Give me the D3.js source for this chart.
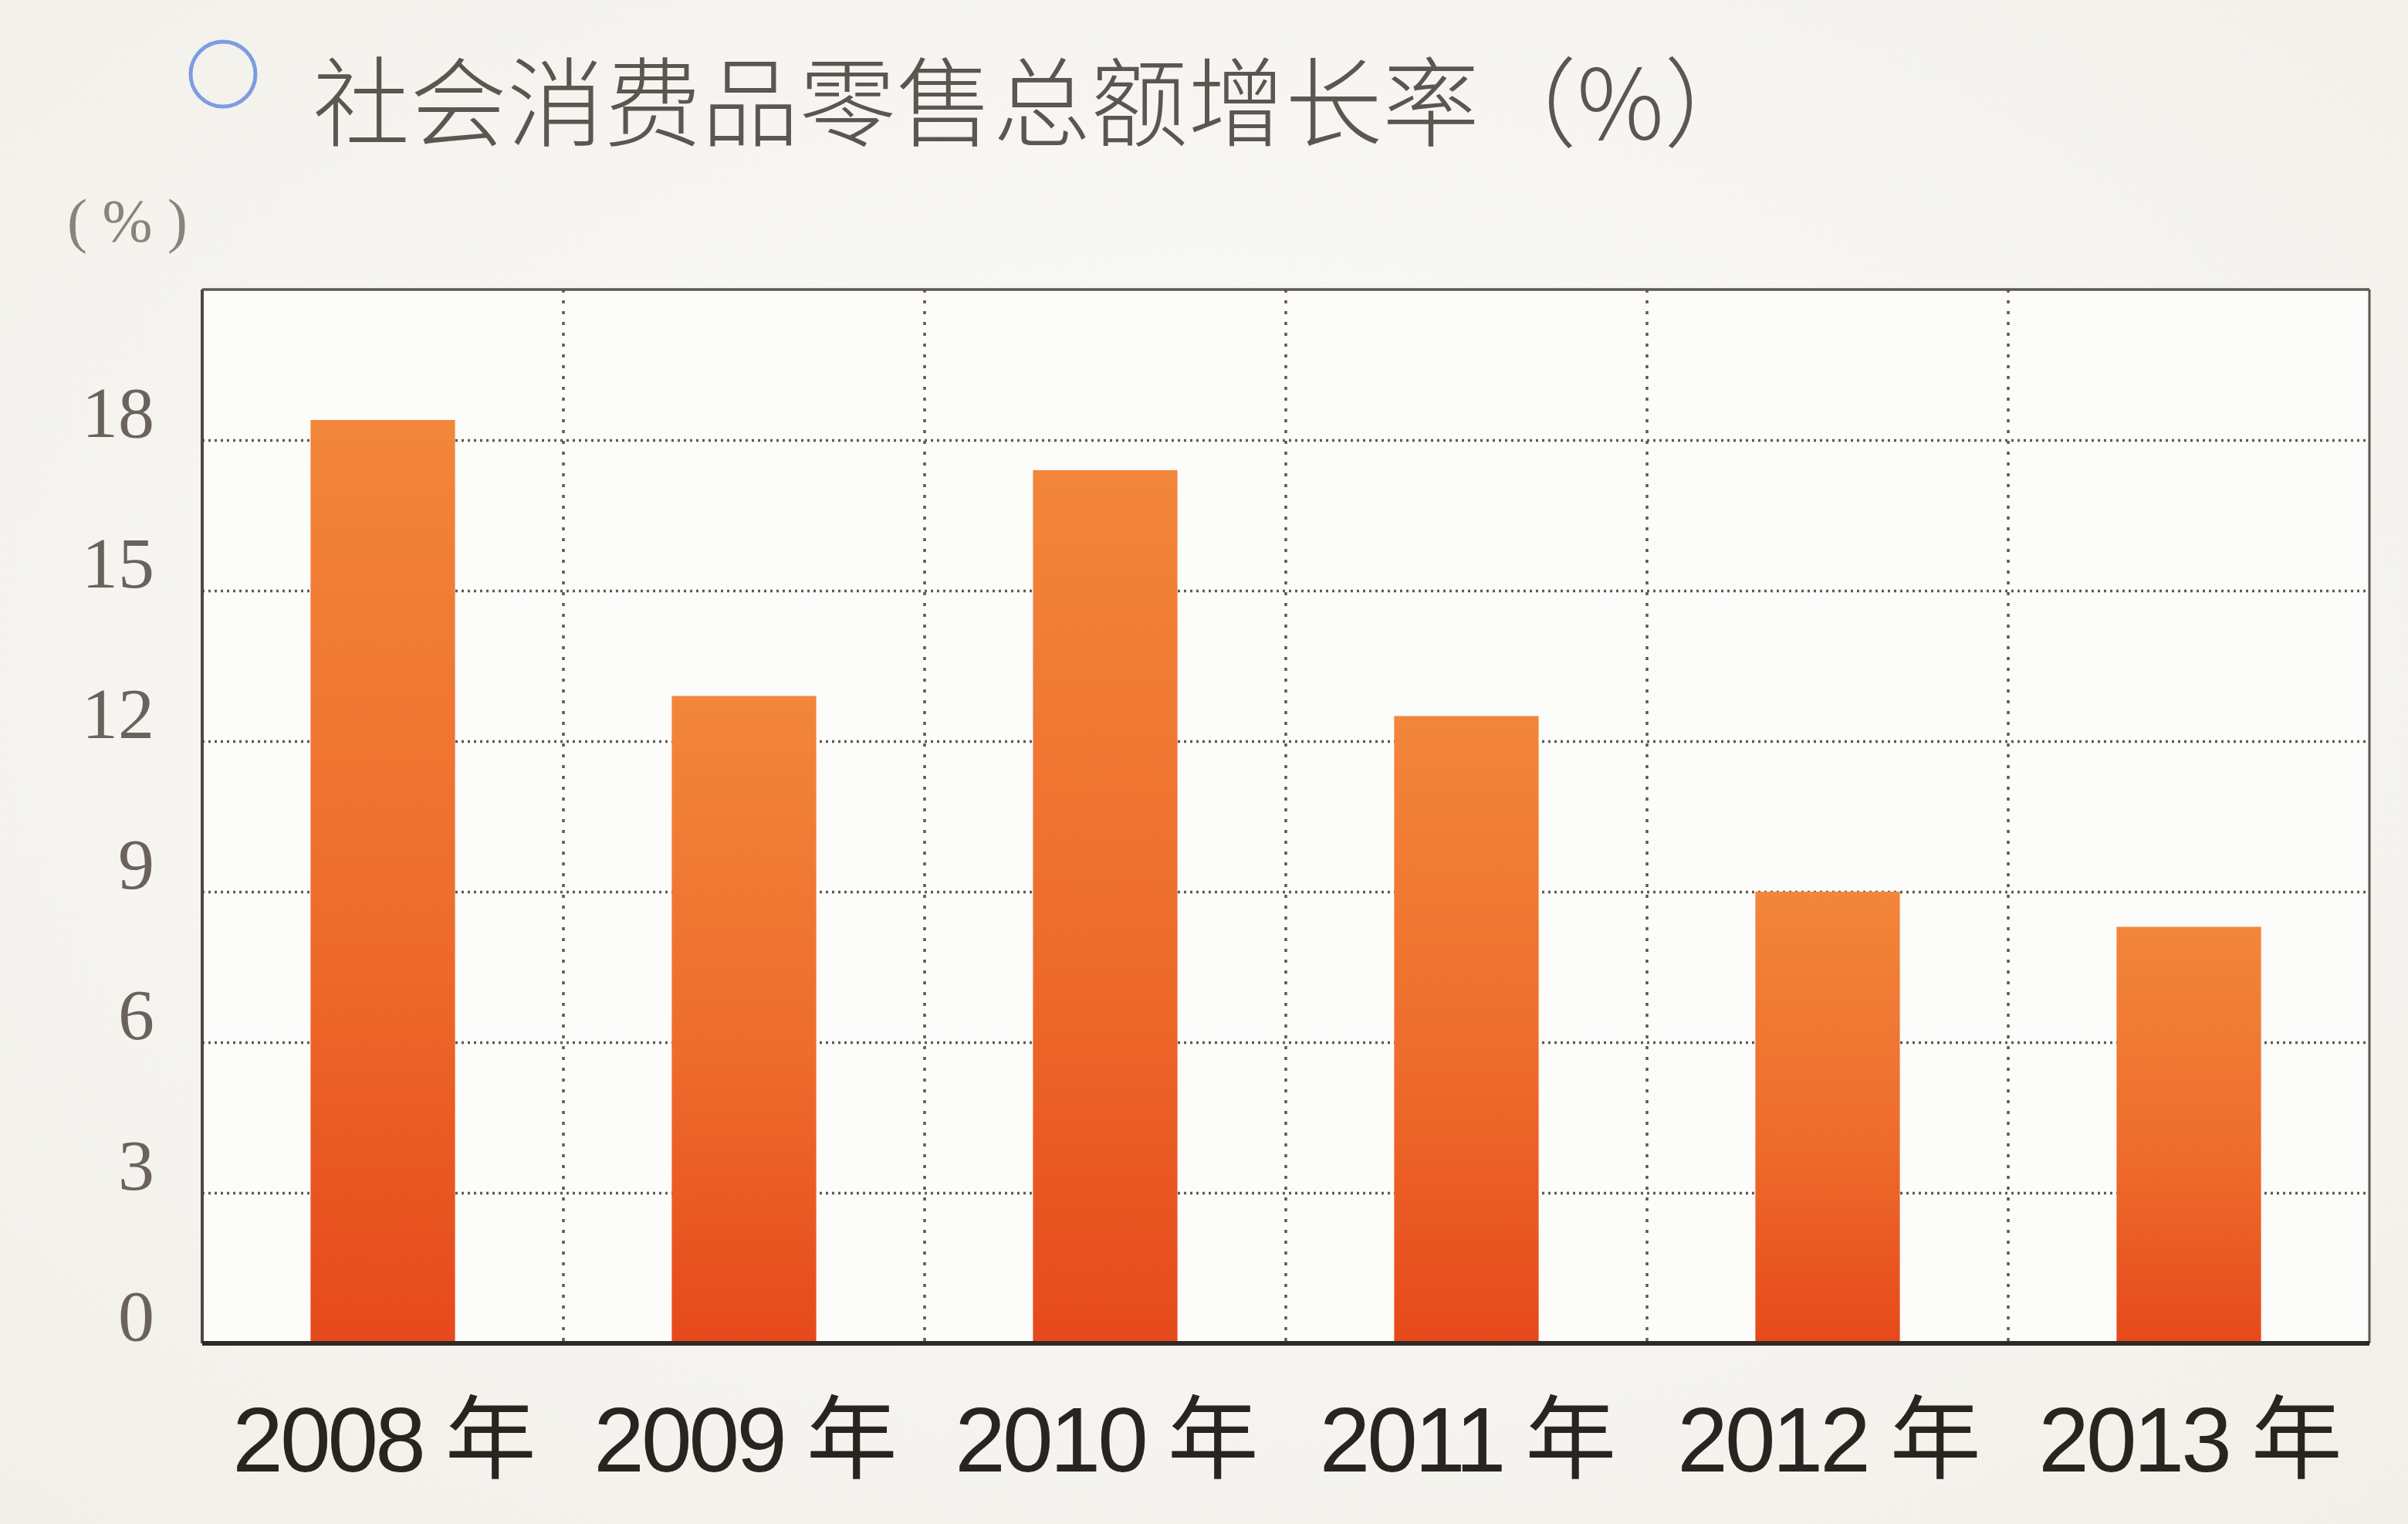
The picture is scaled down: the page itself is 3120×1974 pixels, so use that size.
<!DOCTYPE html>
<html>
<head>
<meta charset="utf-8">
<script src="https://cdn.jsdelivr.net/npm/d3@7"></script>
<style>
  html, body { margin: 0; padding: 0; background: #f6f5f1; }
  svg { display: block; }
</style>
</head>
<body>
<script>
// ---- data ----
const categories = ["2008", "2009", "2010", "2011", "2012", "2013"];
const tickLabels = ["2008 年", "2009 年", "2010 年", "2011 年", "2012 年", "2013 年"];
const values = [18.4, 12.9, 17.4, 12.5, 9.0, 8.3];
const yTicks = [0, 3, 6, 9, 12, 15, 18];
const titleText = "社会消费品零售总额增长率（%）";
const unitText = "( % )";

(function () {
// ---- layout ----
const W = 3120, H = 1974;
const pLeft = 262, pRight = 3070, pTop = 375, pBottom = 1740;

const svg = d3.select("body").append("svg")
  .attr("width", W).attr("height", H)
  .attr("viewBox", `0 0 ${W} ${H}`);

const defs = svg.append("defs");
const grad = defs.append("linearGradient")
  .attr("id", "barGrad").attr("x1", 0).attr("y1", 0).attr("x2", 0).attr("y2", 1);
grad.append("stop").attr("offset", "0%").attr("stop-color", "#f2863a");
grad.append("stop").attr("offset", "55%").attr("stop-color", "#ee6c2c");
grad.append("stop").attr("offset", "100%").attr("stop-color", "#e6491b");

const bg = defs.append("radialGradient").attr("id", "bgGrad")
  .attr("cx", "50%").attr("cy", "45%").attr("r", "75%");
bg.append("stop").attr("offset", "0%").attr("stop-color", "#fcfcfa");
bg.append("stop").attr("offset", "100%").attr("stop-color", "#f1efe9");

svg.append("rect").attr("width", W).attr("height", H).attr("fill", "url(#bgGrad)");

// scales
const x = d3.scaleBand().domain(categories).range([pLeft, pRight])
  .paddingInner(0.6).paddingOuter(0.3);
const y = d3.scaleLinear().domain([0, 21]).range([pBottom, pTop]);

// plot background
svg.append("rect")
  .attr("x", pLeft).attr("y", pTop)
  .attr("width", pRight - pLeft).attr("height", pBottom - pTop)
  .attr("fill", "#fcfcfb");

// horizontal gridlines via axis
const gridY = svg.append("g").attr("transform", `translate(${pLeft},0)`)
  .call(d3.axisLeft(y).tickValues(yTicks.filter(v => v > 0))
    .tickSize(-(pRight - pLeft)).tickFormat(""));
gridY.select(".domain").remove();
gridY.selectAll("line")
  .attr("stroke", "#635a54").attr("stroke-width", 3.5)
  .attr("stroke-dasharray", "3,5");

// vertical gridlines at category boundaries
const step = x.step();
const boundaries = categories.slice(1);
svg.append("g").selectAll("line")
  .data(boundaries).join("line")
  .attr("x1", d => x(d) - step * x.paddingInner() / 2)
  .attr("x2", d => x(d) - step * x.paddingInner() / 2)
  .attr("y1", pTop).attr("y2", pBottom)
  .attr("stroke", "#5f5650").attr("stroke-width", 3.5)
  .attr("stroke-dasharray", "4,10");

// bars
svg.append("g").selectAll("rect")
  .data(values).join("rect")
  .attr("x", (d, i) => x(categories[i]))
  .attr("y", d => y(d))
  .attr("width", x.bandwidth())
  .attr("height", d => y(0) - y(d))
  .attr("fill", "url(#barGrad)");

// frame
svg.append("line").attr("x1", pLeft).attr("x2", pRight).attr("y1", pTop).attr("y2", pTop)
  .attr("stroke", "#5f5752").attr("stroke-width", 3.5);
svg.append("line").attr("x1", pRight).attr("x2", pRight).attr("y1", pTop).attr("y2", pBottom)
  .attr("stroke", "#5f5752").attr("stroke-width", 3);
svg.append("line").attr("x1", pLeft).attr("x2", pLeft).attr("y1", pTop).attr("y2", pBottom)
  .attr("stroke", "#4f4843").attr("stroke-width", 4);

// y axis labels
const yAxis = svg.append("g").attr("transform", `translate(${pLeft},0)`)
  .call(d3.axisLeft(y).tickValues(yTicks).tickSize(0).tickPadding(62).tickFormat(d3.format("d")));
yAxis.select(".domain").remove();
yAxis.selectAll("text")
  .attr("font-family", "'Liberation Serif', 'DejaVu Serif', serif")
  .attr("font-size", 94)
  .attr("fill", "#6a625d")
  .attr("dy", "-0.05em");

// x axis
const xAxis = svg.append("g").attr("transform", `translate(0,${pBottom})`)
  .call(d3.axisBottom(x).tickSize(0).tickPadding(82)
    .tickFormat((d, i) => tickLabels[i]));
xAxis.select(".domain")
  .attr("stroke", "#2f2926").attr("stroke-width", 6)
  .attr("d", `M${pLeft},0H${pRight}`);
xAxis.selectAll("text")
  .attr("font-family", "'Liberation Sans', Arial, 'Noto Sans CJK SC', sans-serif")
  .attr("font-size", 118)
  .attr("letter-spacing", -4)
  .attr("fill", "#2a2420");

// unit label
svg.append("text")
  .attr("x", 165).attr("y", 312)
  .attr("text-anchor", "middle")
  .attr("font-family", "'Liberation Serif', 'DejaVu Serif', serif")
  .attr("font-size", 78)
  .attr("fill", "#8a827c")
  .style("white-space", "pre")
  .text(unitText);

// title
svg.append("circle").attr("cx", 289).attr("cy", 96).attr("r", 42)
  .attr("fill", "none").attr("stroke", "#7d9ce0").attr("stroke-width", 5);
svg.append("text")
  .attr("x", 405).attr("y", 180)
  .attr("font-family", "'Noto Sans CJK SC', 'Noto Sans', sans-serif")
  .attr("font-weight", 300)
  .attr("font-size", 126)
  .attr("fill", "#5c5651")
  .text(titleText);
})();
</script>
</body>
</html>
